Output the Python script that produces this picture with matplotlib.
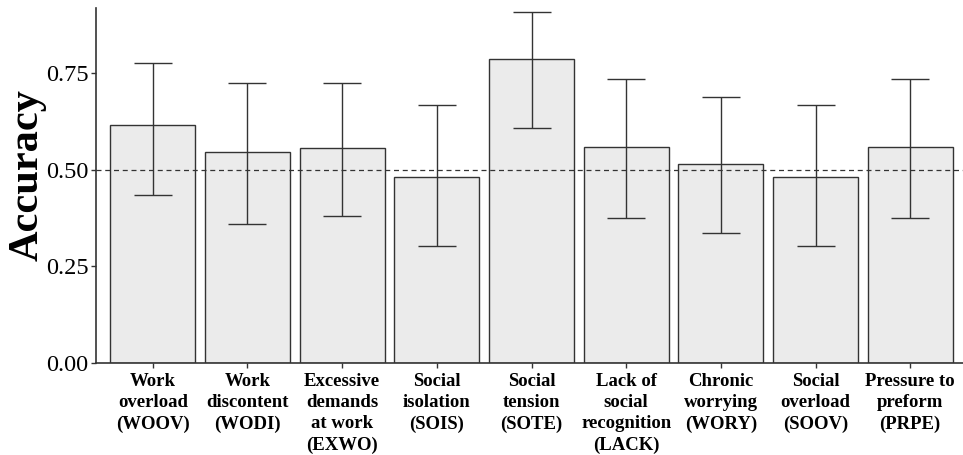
import numpy as np
import matplotlib.pyplot as plt

plt.rcParams['font.family'] = ['Liberation Serif', 'DejaVu Serif']

labels = ['Work\noverload\n(WOOV)', 'Work\ndiscontent\n(WODI)', 'Excessive\ndemands\nat work\n(EXWO)',
          'Social\nisolation\n(SOIS)', 'Social\ntension\n(SOTE)', 'Lack of\nsocial\nrecognition\n(LACK)',
          'Chronic\nworrying\n(WORY)', 'Social\noverload\n(SOOV)', 'Pressure to\npreform\n(PRPE)']
accuracy = [0.615, 0.546, 0.556, 0.481, 0.786, 0.559, 0.515, 0.481, 0.559]
ci_low = [0.434, 0.360, 0.380, 0.303, 0.608, 0.375, 0.336, 0.303, 0.375]
ci_high = [0.776, 0.724, 0.724, 0.667, 0.908, 0.734, 0.688, 0.667, 0.734]

acc = np.array(accuracy)
yerr = np.vstack([acc - np.array(ci_low), np.array(ci_high) - acc])
x = np.arange(len(labels))

fig = plt.figure(figsize=(9.63, 4.55), dpi=100)
ax = fig.add_axes([96 / 963, 1 - 363 / 455, 871 / 963, 355 / 455])

dark = '#333333'
ax.bar(x, acc, width=0.9, color='#ebebeb', edgecolor=dark, linewidth=1.0, zorder=2)
ax.errorbar(x, acc, yerr=yerr, fmt='none', ecolor=dark, elinewidth=1.0,
            capsize=14, capthick=1.0, zorder=3)
ax.axhline(0.5, color=dark, linestyle=(0, (4, 3)), linewidth=0.9, zorder=4)

ax.set_xlim(-0.6, 8.6)
ax.set_ylim(0, 0.918)
ax.set_yticks([0, 0.25, 0.5, 0.75])
ax.set_yticklabels(['0.00', '0.25', '0.50', '0.75'], fontsize=17.5)
ax.set_xticks(x)
ax.set_xticklabels(labels, fontsize=13.5, fontweight='bold', linespacing=1.3, va='top')
ax.tick_params(axis='both', color=dark, length=3.5, width=1.0)
ax.tick_params(axis='x', pad=4)
ax.tick_params(axis='y', pad=2)

for side in ['top', 'right']:
    ax.spines[side].set_visible(False)
for side in ['left', 'bottom']:
    ax.spines[side].set_color(dark)
    ax.spines[side].set_linewidth(1.2)

ax.set_ylabel('Accuracy', fontsize=30.5, fontweight='bold')
ax.yaxis.set_label_coords(-0.057, 0.53)

fig.savefig('out.png', dpi=100)
